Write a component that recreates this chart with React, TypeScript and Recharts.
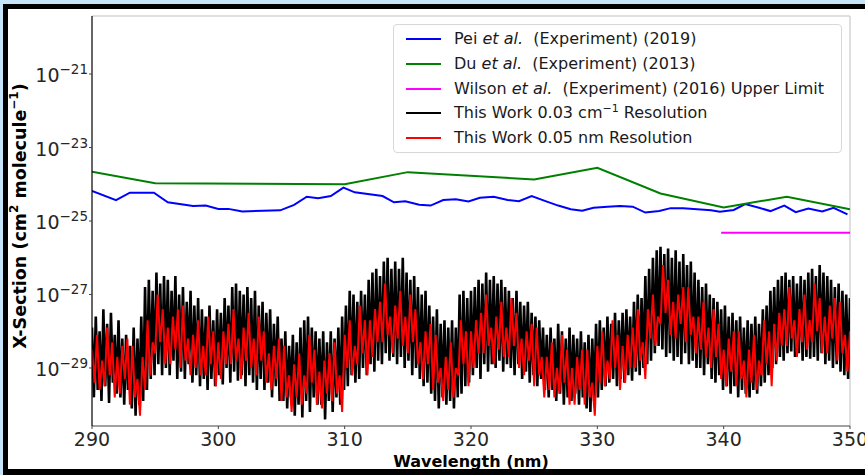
import React from 'react';
import { LineChart, Line, XAxis, YAxis, ReferenceLine } from 'recharts';

// ---- axis ticks ----
const X_TICKS = [290, 300, 310, 320, 330, 340, 350];
const Y_TICK_EXPONENTS = [-29, -27, -25, -23, -21];
const Y_DOMAIN = [-30.58, -19.42]; // log10 of cross-section (cm^2 molecule^-1)

// ---- Pei et al. (2019), wavelength (nm) and log10 cross-section ----
const peiWavelength = [290, 291.9, 293.0, 294.9, 296.0, 298.0, 299.0, 300.0, 300.8, 301.9, 304.9, 306.0, 307.0, 307.9, 308.9, 309.9, 310.8, 313.0, 313.9, 314.8, 315.9, 316.8, 317.8, 318.8, 319.8, 320.7, 321.8, 322.9, 323.8, 324.8, 325.9, 326.9, 327.9, 328.8, 329.7, 330.8, 331.8, 332.8, 333.8, 334.9, 335.8, 336.8, 337.9, 339.0, 339.7, 340.8, 341.7, 342.8, 343.7, 344.8, 345.7, 346.7, 347.8, 348.7, 349.8];
const peiLogXS = [-24.18, -24.43, -24.23, -24.23, -24.49, -24.59, -24.58, -24.67, -24.67, -24.74, -24.71, -24.56, -24.34, -24.38, -24.32, -24.09, -24.22, -24.32, -24.49, -24.46, -24.56, -24.58, -24.43, -24.41, -24.47, -24.37, -24.34, -24.43, -24.46, -24.32, -24.46, -24.58, -24.68, -24.72, -24.64, -24.61, -24.59, -24.61, -24.77, -24.73, -24.65, -24.65, -24.68, -24.71, -24.75, -24.70, -24.54, -24.64, -24.73, -24.58, -24.76, -24.66, -24.74, -24.64, -24.82];

// ---- Du et al. (2013) ----
const duWavelength = [290, 295, 310, 315, 325, 330, 335, 340, 345, 350];
const duLogXS = [-23.66, -23.97, -24.00, -23.67, -23.87, -23.55, -24.25, -24.63, -24.34, -24.68];

// ---- Wilson et al. (2016) upper limit ----
const wilsonWavelength = [339.8, 350];
const wilsonLogXS = [-25.32, -25.32];

// ---- This work 0.03 cm^-1 resolution (grid 290 nm, step 0.15 nm) ----
const BLACK_START = 290;
const BLACK_STEP = 0.15;
const blackLogXS = [
  -27.9,-29.8,-27.6,-29.6,-28.0,-29.9,-27.4,-29.5,-27.8,-29.95,-27.5,-29.4,-28.1,-29.7,-27.7,-29.8,-28.2,-30.0,-28.1,-29.6,
  -28.4,-30.1,-27.9,-30.3,-28.2,-30.0,-27.6,-29.9,-26.8,-29.6,-26.6,-29.3,-26.9,-29.2,-26.4,-28.9,-26.7,-29.2,-26.5,-29.0,
  -26.6,-29.2,-26.9,-28.8,-26.5,-29.3,-27.0,-29.1,-26.8,-29.3,-27.2,-28.9,-26.9,-29.4,-27.3,-29.2,-27.1,-29.5,-27.4,-29.3,
  -27.6,-29.6,-27.3,-29.3,-27.7,-29.5,-27.4,-29.2,-27.5,-29.45,-27.1,-29.0,-27.3,-29.4,-26.8,-29.1,-26.7,-29.35,-26.9,-29.2,
  -27.0,-29.5,-26.8,-29.2,-27.1,-29.4,-26.9,-29.6,-27.3,-29.3,-27.2,-29.6,-27.5,-29.4,-27.4,-29.8,-27.8,-29.5,-27.6,-29.9,
  -28.2,-29.9,-28.0,-30.1,-28.4,-29.8,-28.1,-30.3,-28.3,-30.0,-27.9,-30.35,-27.7,-29.9,-27.6,-30.2,-27.9,-29.8,-28.0,-30.0,
  -28.2,-30.0,-28.0,-30.4,-28.3,-29.9,-28.0,-30.2,-28.2,-29.8,-27.9,-30.0,-27.6,-29.6,-27.3,-29.5,-26.9,-29.2,-27.0,-29.4,
  -27.2,-29.3,-26.9,-29.0,-27.0,-29.2,-26.6,-28.9,-26.4,-29.1,-26.3,-28.8,-26.5,-28.9,-26.1,-28.6,-26.0,-28.8,-26.3,-28.7,
  -26.1,-28.9,-26.3,-28.7,-26.0,-29.0,-26.4,-28.8,-26.6,-29.2,-26.5,-29.0,-26.8,-29.3,-27.0,-29.5,-26.9,-29.4,-27.3,-29.7,
  -27.6,-29.9,-27.4,-30.1,-27.8,-29.8,-27.7,-30.0,-27.9,-29.9,-27.7,-30.1,-27.9,-29.8,-27.0,-29.7,-26.9,-29.5,-27.1,-29.4,
  -26.9,-29.2,-26.8,-29.0,-26.6,-29.3,-26.7,-28.9,-26.4,-29.1,-26.6,-28.9,-26.5,-29.0,-26.7,-28.8,-26.6,-29.1,-26.8,-28.9,
  -26.9,-29.0,-27.1,-29.2,-26.9,-28.9,-27.2,-29.3,-27.3,-29.1,-27.2,-29.4,-27.5,-29.2,-27.6,-29.5,-27.7,-29.3,-27.9,-29.6,
  -28.1,-29.8,-27.9,-29.6,-28.2,-29.9,-27.8,-29.7,-28.0,-30.0,-28.2,-29.8,-27.9,-29.9,-28.1,-29.7,-28.2,-30.0,-28.0,-29.8,
  -28.3,-30.1,-28.1,-30.2,-28.2,-29.9,-27.8,-29.8,-27.7,-29.6,-27.9,-29.5,-27.6,-29.4,-27.8,-29.3,-27.5,-29.5,-27.7,-29.3,
  -27.5,-29.4,-27.4,-29.2,-27.6,-29.35,-27.2,-29.1,-27.0,-29.2,-27.1,-29.0,-26.5,-28.9,-26.3,-28.8,-26.0,-28.6,-25.8,-28.4,
  -25.7,-28.5,-25.9,-28.7,-25.75,-28.6,-26.0,-28.8,-25.8,-28.7,-26.1,-28.9,-25.9,-28.6,-26.2,-28.9,-26.1,-28.8,-26.4,-29.0,
  -26.6,-29.0,-26.8,-29.2,-26.7,-28.9,-27.0,-29.3,-27.1,-29.4,-27.2,-29.2,-27.4,-29.6,-27.3,-29.5,-27.6,-29.7,-27.5,-29.5,
  -27.7,-29.8,-27.6,-29.6,-27.9,-29.7,-27.7,-29.8,-27.8,-29.6,-27.6,-29.7,-27.8,-29.5,-27.4,-29.4,-27.3,-29.2,-26.9,-29.0,
  -26.8,-28.9,-26.6,-28.7,-26.5,-28.8,-26.4,-28.6,-26.6,-28.55,-26.5,-28.7,-26.7,-28.6,-26.5,-28.8,-26.6,-28.7,-26.4,-28.75,
  -26.3,-28.7,-26.5,-28.8,-26.2,-28.6,-26.4,-28.9,-26.5,-28.8,-26.6,-29.0,-26.8,-28.9,-26.7,-29.1,-26.9,-29.2,-27.0,-29.3,-27.1,
];

// ---- This work 0.05 nm resolution (grid 290 nm, step 0.2 nm) ----
const RED_START = 290;
const RED_STEP = 0.2;
const redLogXS = [
  -28.5,-29.4,-28.1,-29.6,-28.8, -29.5,-27.9,-29.2,-28.3,-29.8, -28.7,-29.7,-28.4,-29.3,-28.2, -30.0,-28.4,-29.8,-29.3,-30.3,
  -28.7,-29.6,-27.7,-29.2,-28.3, -28.6,-27.0,-28.3,-27.4,-28.9, -27.9,-28.9,-27.6,-28.5,-27.4, -29.0,-27.3,-28.8,-28.2,-29.2,
  -28.1,-29.0,-27.7,-29.2,-28.4, -29.2,-27.6,-28.9,-28.0,-29.5, -28.3,-29.3,-28.0,-28.9,-27.8, -28.9,-27.4,-28.8,-28.2,-29.3,
  -27.9,-28.8,-27.5,-29.0,-28.2, -29.2,-27.6,-28.8,-28.0,-29.4, -28.6,-29.6,-28.4,-29.3,-28.2, -29.9,-28.4,-29.8,-29.2,-30.2,
  -28.9,-29.8,-28.6,-30.0,-29.2, -29.7,-28.1,-29.4,-28.5,-30.0, -29.1,-30.1,-28.8,-29.7,-28.6, -29.9,-28.3,-29.7,-29.2,-30.2,
  -28.1,-29.0,-27.7,-29.2,-28.4, -28.9,-27.3,-28.6,-27.7,-29.2, -27.7,-28.7,-27.4,-28.3,-27.2, -28.3,-26.7,-28.1,-27.6,-28.6,
  -27.3,-28.2,-26.9,-28.4,-27.6, -28.6,-27.0,-28.3,-27.4,-28.9, -28.3,-29.3,-28.0,-28.9,-27.8, -29.6,-28.1,-29.4,-29.0,-29.9,
  -28.7,-29.6,-28.3,-29.8,-29.0, -29.2,-27.7,-28.9,-28.0,-29.5, -28.0,-29.0,-27.7,-28.6,-27.5, -28.6,-27.0,-28.4,-27.9,-28.9,
  -27.6,-28.5,-27.2,-28.7,-27.9, -28.7,-27.1,-28.4,-27.5,-29.0, -28.2,-29.2,-28.0,-28.8,-27.8, -29.5,-27.9,-29.2,-28.7,-29.8,
  -28.7,-29.6,-28.3,-29.8,-29.0, -29.7,-28.1,-29.4,-28.5,-30.0, -29.0,-30.0,-28.7,-29.6,-28.5, -30.0,-28.5,-29.8,-29.4,-30.3,
  -28.4,-29.4,-28.0,-29.5,-28.8, -29.3,-27.7,-29.0,-28.1,-29.6, -28.4,-29.4,-28.1,-29.0,-27.9, -29.0,-27.4,-28.8,-28.3,-29.3,
  -27.4,-28.2,-27.0,-28.4,-27.6, -27.8,-26.2,-27.5,-26.6,-28.1, -27.2,-28.2,-27.0,-27.8,-26.8, -28.3,-26.8,-28.1,-27.6,-28.6,
  -27.6,-28.5,-27.2,-28.7,-27.9, -29.0,-27.4,-28.7,-27.8,-29.3, -28.5,-29.5,-28.2,-29.1,-28.0, -29.5,-28.0,-29.3,-28.8,-29.8,
  -28.5,-29.4,-28.1,-29.6,-28.8, -29.2,-27.7,-28.9,-28.0,-29.5, -27.8,-28.8,-27.5,-28.4,-27.4, -28.4,-26.8,-28.2,-27.7,-28.7,
  -27.4,-28.3,-27.0,-28.5,-27.7, -28.3,-26.7,-28.0,-27.1,-28.6, -27.6,-28.6,-27.3,-28.2,-27.1, -28.8,-27.2,-28.6,-28.1,-29.1,
  -28.0,
];

const peiData = peiWavelength.map((x, i) => ({ x, y: peiLogXS[i] }));
const duData = duWavelength.map((x, i) => ({ x, y: duLogXS[i] }));
const wilsonData = wilsonWavelength.map((x, i) => ({ x, y: wilsonLogXS[i] }));
const blackData = blackLogXS.map((y, i) => ({ x: BLACK_START + i * BLACK_STEP, y }));
const redData = redLogXS.map((y, i) => ({ x: RED_START + i * RED_STEP, y }));

const FONT = '"DejaVu Sans", Verdana, sans-serif';
const TICK_COLOR = '#262626';

const YTick = (props: any) => {
  const { x, y, payload } = props;
  return (
    <text x={x} y={y} textAnchor="end" fill={TICK_COLOR} fontFamily={FONT}>
      <tspan fontSize={19} dy={8}>10</tspan>
      <tspan fontSize={13.5} dy={-8}>{'\u2212' + Math.abs(payload.value)}</tspan>
    </text>
  );
};

const legendItems = [
  { color: '#0000ff', label: (<span>Pei <i>et al.</i>&nbsp; (Experiment) (2019)</span>) },
  { color: '#008000', label: (<span>Du <i>et al.</i>&nbsp; (Experiment) (2013)</span>) },
  { color: '#ff00ff', label: (<span>Wilson <i>et al.</i>&nbsp; (Experiment) (2016) Upper Limit</span>) },
  { color: '#000000', label: (<span>This Work 0.03 cm<sup style={{ fontSize: 11, verticalAlign: 'top', position: 'relative', top: -4 }}>{'\u22121'}</sup> Resolution</span>) },
  { color: '#ff0000', label: (<span>This Work 0.05 nm Resolution</span>) },
];

export default function App() {
  return (
    <div style={{ position: 'absolute', left: 0, top: 0, width: 865, height: 475, background: '#c6e5f8', overflow: 'hidden' }}>
      <div style={{ position: 'absolute', left: 3, top: 4, width: 862, height: 471, background: '#000' }} />
      <div style={{ position: 'absolute', left: 8, top: 9, width: 857, height: 460, background: '#fff' }} />
      <div style={{ position: 'absolute', left: 0, top: 0 }}>
        <LineChart width={865} height={475} margin={{ top: 16, right: 15, bottom: 19, left: 32 }}>
          <XAxis
            type="number"
            dataKey="x"
            domain={[290, 350]}
            ticks={X_TICKS}
            allowDataOverflow
            height={30}
            tickSize={3}
            tickMargin={4}
            axisLine={{ stroke: '#444', strokeWidth: 1.2 }}
            tickLine={{ stroke: '#444' }}
            tick={{ fontSize: 19, fill: TICK_COLOR, fontFamily: FONT }}
          />
          <YAxis
            type="number"
            dataKey="y"
            domain={Y_DOMAIN}
            ticks={Y_TICK_EXPONENTS}
            allowDataOverflow
            width={60}
            tickSize={3}
            tickMargin={1}
            axisLine={{ stroke: '#000', strokeWidth: 1.2 }}
            tickLine={{ stroke: '#444' }}
            tick={<YTick />}
          />
          <ReferenceLine y={Y_DOMAIN[1]} stroke="#d4d4d4" strokeWidth={1.5} />
          <ReferenceLine x={350} stroke="#d4d4d4" strokeWidth={1.5} />
          <Line data={blackData} dataKey="y" stroke="#000000" strokeWidth={2.6} strokeLinejoin="miter" dot={false} activeDot={false} isAnimationActive={false} />
          <Line data={redData} dataKey="y" stroke="#ff0000" strokeWidth={2} dot={false} activeDot={false} isAnimationActive={false} />
          <Line data={peiData} dataKey="y" stroke="#0000ff" strokeWidth={2} dot={false} activeDot={false} isAnimationActive={false} />
          <Line data={duData} dataKey="y" stroke="#008000" strokeWidth={2} dot={false} activeDot={false} isAnimationActive={false} />
          <Line data={wilsonData} dataKey="y" stroke="#ff00ff" strokeWidth={2} dot={false} activeDot={false} isAnimationActive={false} />
        </LineChart>
      </div>
      {/* axis titles */}
      <div style={{ position: 'absolute', left: 471, top: 461, transform: 'translate(-50%, -50%)', fontFamily: FONT, fontWeight: 'bold', fontSize: 16, color: '#000', whiteSpace: 'nowrap' }}>
        Wavelength (nm)
      </div>
      <div style={{ position: 'absolute', left: 20, top: 216, transform: 'translate(-50%, -50%) rotate(-90deg)', fontFamily: FONT, fontWeight: 'bold', fontSize: 17.5, color: '#000', whiteSpace: 'nowrap' }}>
        X-Section (cm<sup style={{ fontSize: 12, verticalAlign: 'top', position: 'relative', top: -3 }}>2</sup> molecule<sup style={{ fontSize: 12, verticalAlign: 'top', position: 'relative', top: -3 }}>{'\u22121'}</sup>)
      </div>
      {/* legend */}
      <div style={{ position: 'absolute', left: 393, top: 24, width: 449, height: 129, boxSizing: 'border-box', border: '1px solid #d8d8d8', borderRadius: 4, background: 'rgba(255,255,255,0.85)', fontFamily: FONT, fontSize: 16, color: '#1a1a1a' }}>
        {legendItems.map((it, i) => (
          <div key={i} style={{ position: 'absolute', left: 0, top: 14 + i * 24.8 - 12, height: 24, width: '100%' }}>
            <div style={{ position: 'absolute', left: 12, top: 11, width: 35, height: 2, background: it.color }} />
            <div style={{ position: 'absolute', left: 60, top: 0, lineHeight: '24px', whiteSpace: 'nowrap' }}>{it.label}</div>
          </div>
        ))}
      </div>
    </div>
  );
}
